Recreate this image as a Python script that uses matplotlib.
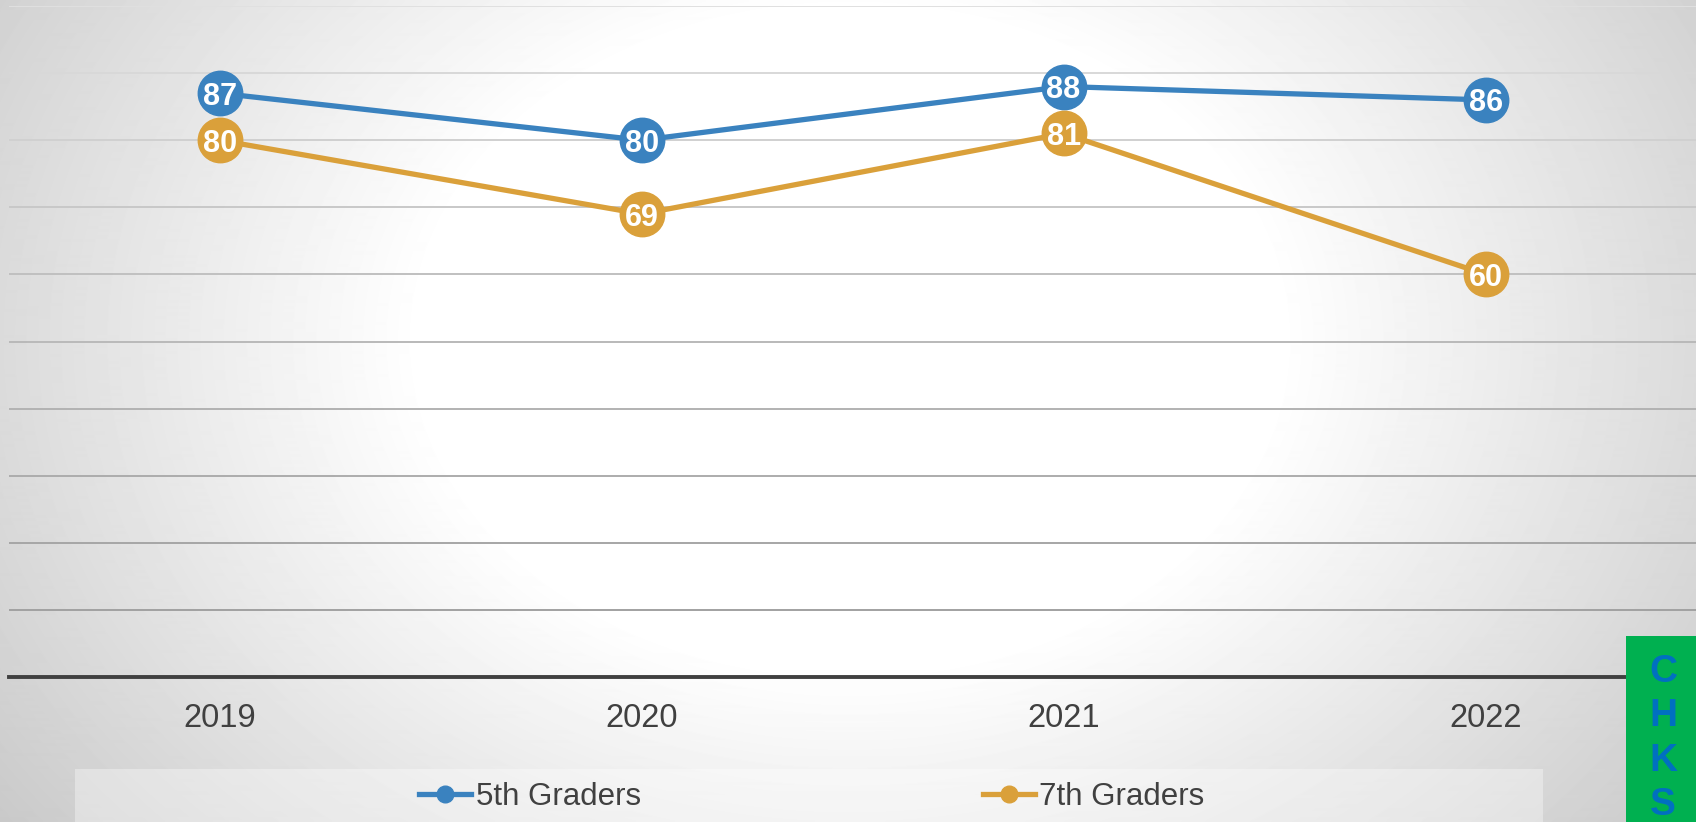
import numpy as np
import matplotlib
matplotlib.use("Agg")
import matplotlib.pyplot as plt
from matplotlib.lines import Line2D
from matplotlib.patches import Rectangle

# datos
years = ["2019", "2020", "2021", "2022"]
fifth = [87, 80, 88, 86]
seventh = [80, 69, 81, 60]
series_names = ["5th Graders", "7th Graders"]

blue = "#3a82bf"
orange = "#daa03a"
txt = "#404040"

plt.rcParams['font.family'] = ['Liberation Sans', 'DejaVu Sans']

W, H = 1696, 822
fig = plt.figure(figsize=(W / 100, H / 100), dpi=100)

# fondo con degradado radial
bg = fig.add_axes([0, 0, 1, 1], zorder=-10)
yy, xx = np.mgrid[0:H, 0:W]
r = np.sqrt(((xx - 850) / 1.3) ** 2 + ((yy - 340) / 1.0) ** 2)
t = np.clip((r - 330) / 480, 0, 1)
shade = 1 - 0.21 * t
bg.imshow(shade, cmap="gray", vmin=0, vmax=1, aspect="auto", interpolation="bilinear")
bg.axis("off")

# banda de la leyenda
fig.patches.append(Rectangle((75 / W, 0), (1543 - 75) / W, (822 - 769) / H,
                             transform=fig.transFigure, facecolor="white",
                             alpha=0.35, edgecolor="none", zorder=-5))

ax = fig.add_axes([8.6 / W, 1 - 677 / H, 1688 / W, 671 / H])
ax.set_facecolor("none")
x = np.arange(1, len(years) + 1)

ax.plot(x, fifth, color=blue, lw=3.8, marker="o", ms=32, zorder=3)
ax.plot(x, seventh, color=orange, lw=3.8, marker="o", ms=32, zorder=3)
for xi, v in zip(x, fifth):
    ax.text(xi, v, str(v), color="white", fontsize=22, fontweight="bold",
            ha="center", va="center_baseline", zorder=4)
for xi, v in zip(x, seventh):
    ax.text(xi, v, str(v), color="white", fontsize=22, fontweight="bold",
            ha="center", va="center_baseline", zorder=4)

ax.set_xlim(0.5, 4.5)
ax.set_ylim(0, 100)
ax.set_yticks(np.arange(0, 101, 10))
ax.set_yticklabels([])
ax.tick_params(axis="y", length=0)
ax.set_xticks(x)
ax.set_xticklabels(years, fontsize=23.5, color=txt)
ax.tick_params(axis="x", length=0, pad=19)
ax.grid(axis="y", lw=1.4)
glines = ax.get_ygridlines()
for i, gl in enumerate(glines):
    f = i / 10
    c = 0.62 + 0.26 * f ** 1.3
    gl.set_color((c, c, c))
glines[0].set_visible(False)
for s in ["top", "right", "left"]:
    ax.spines[s].set_visible(False)
ax.spines["bottom"].set_color("#404040")
ax.spines["bottom"].set_linewidth(2.8)
ax.spines["bottom"].set_zorder(2)

handles = [Line2D([], [], color=blue, lw=3.8, marker="o", ms=12),
           Line2D([], [], color=orange, lw=3.8, marker="o", ms=12)]
leg = fig.legend(handles, series_names, loc="center", bbox_to_anchor=(812 / W, 1 - 797 / H),
                 ncol=2, frameon=False, fontsize=22.5, handlelength=1.65,
                 handletextpad=0.15, columnspacing=10.95, labelcolor=txt)

# caja verde lateral
fig.patches.append(Rectangle((1626 / W, 0), 70 / W, (822 - 636) / H,
                             transform=fig.transFigure, facecolor="#00b050",
                             edgecolor="none", zorder=5))
for letra, yc in zip("CHKS", [672, 716, 761, 805]):
    fig.text(1663 / W, 1 - yc / H, letra, color="#0070c0", fontsize=28,
             fontweight="bold", ha="center", va="center", zorder=6)

fig.savefig("out.png", dpi=100)
